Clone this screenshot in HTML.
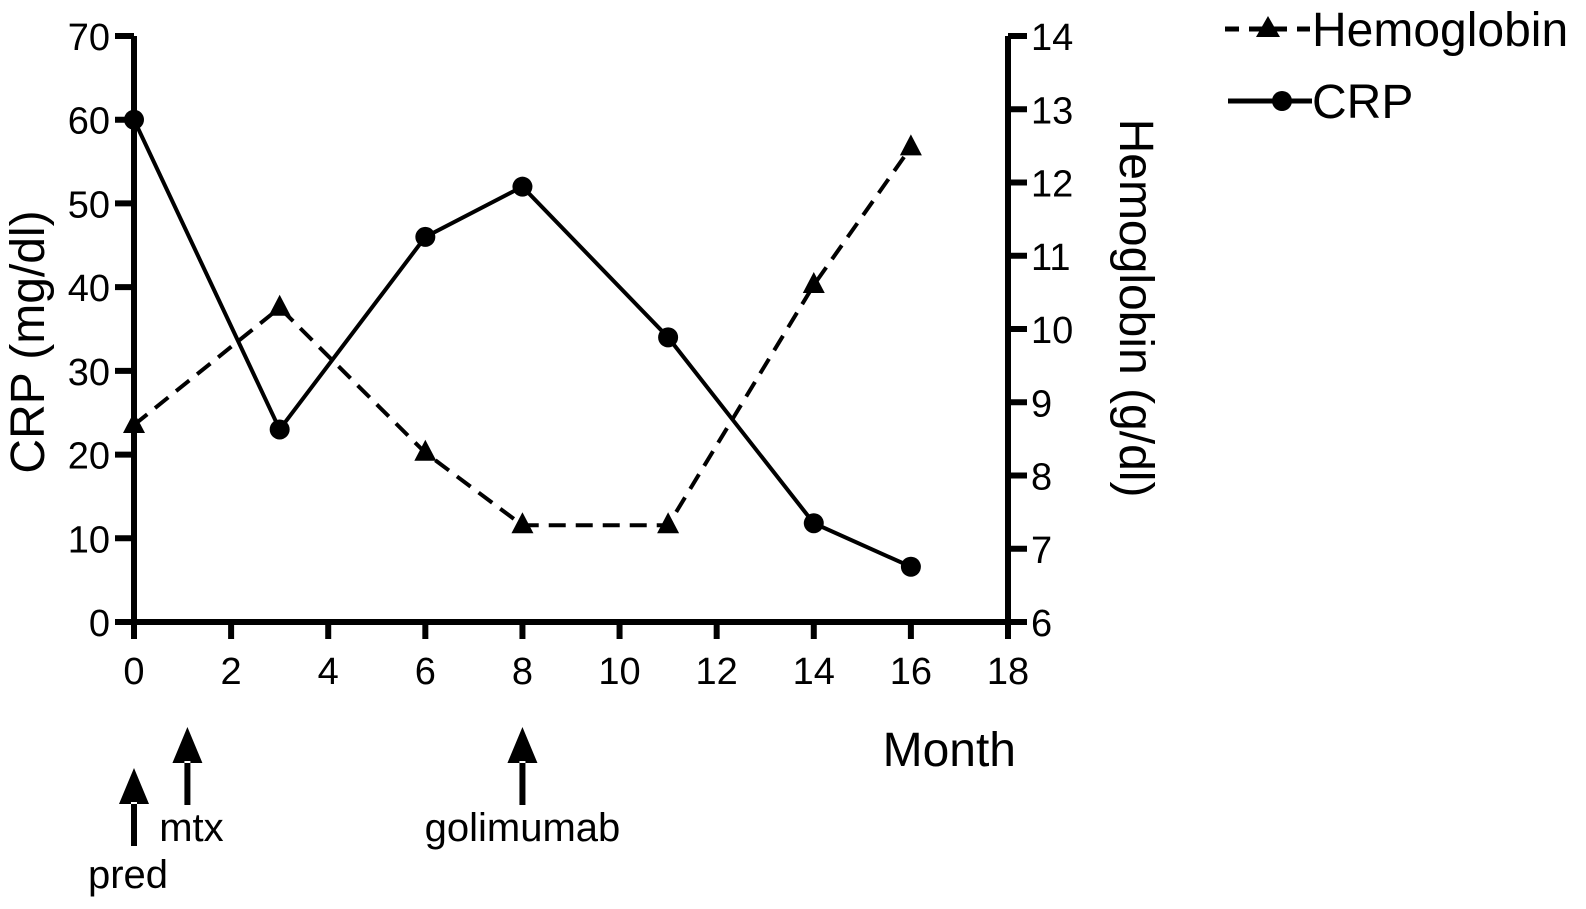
<!DOCTYPE html>
<html><head><meta charset="utf-8"><style>
html,body{margin:0;padding:0;background:#fff;}
svg{display:block;font-family:"Liberation Sans",Arial,sans-serif;}
</style></head><body>
<svg id="chart" width="1586" height="909" viewBox="0 0 1586 909" xmlns="http://www.w3.org/2000/svg"></svg>
<script>
const months=[0,3,6,8,11,14,16];
const crpValues=[60,23,46,52,34,11.8,6.6];
const hbValues=[8.69,10.29,8.31,7.32,7.32,10.6,12.48];
const xTicks=[0,2,4,6,8,10,12,14,16,18];
const crpTicks=[0,10,20,30,40,50,60,70];
const hbTicks=[6,7,8,9,10,11,12,13,14];
const events=[{m:0,label:"pred"},{m:1.1,label:"mtx"},{m:8,label:"golimumab"}];

const X=m=>134+m*(1008-134)/18;
const YL=v=>622-v*(622-36)/70;
const YR=v=>622-(v-6)*(622-36)/8;
const svg=document.getElementById('chart');
const NS='http://www.w3.org/2000/svg';
function mk(t,a,p){const e=document.createElementNS(NS,t);for(const k in a)e.setAttribute(k,a[k]);(p||svg).appendChild(e);return e;}

let e;
e=mk('path',{d:`M134 ${YL(70)} V622 H1008 V36`,fill:'none',stroke:'#000','stroke-width':6});


xTicks.forEach(t=>{
 e=mk('line',{x1:X(t),x2:X(t),y1:622,y2:639,stroke:'#000','stroke-width':6});
 
 
 e=mk('text',{x:X(t),y:684,'font-size':38,'text-anchor':'middle'});e.textContent=t;
 
 
});
crpTicks.forEach(t=>{
 e=mk('line',{x1:115,x2:134,y1:YL(t),y2:YL(t),stroke:'#000','stroke-width':6});
 
 
 e=mk('text',{x:110,y:YL(t)+14,'font-size':38,'text-anchor':'end'});e.textContent=t;
 
 
});
hbTicks.forEach(t=>{
 e=mk('line',{x1:1008,x2:1027,y1:YR(t),y2:YR(t),stroke:'#000','stroke-width':6});
 
 
 e=mk('text',{x:1031,y:YR(t)+14,'font-size':38,'text-anchor':'start'});e.textContent=t;
 
 
});
e=mk('text',{x:0,y:0,'font-size':48,'text-anchor':'middle',transform:'translate(44,342) rotate(-90)'});e.textContent='CRP (mg/dl)';


e=mk('text',{x:0,y:0,'font-size':48,'text-anchor':'middle',transform:'translate(1120,308) rotate(90)'});e.textContent='Hemoglobin (g/dl)';


e=mk('text',{x:1016,y:766,'font-size':48,'text-anchor':'end'});e.textContent='Month';



e=mk('polyline',{points:months.map((m,i)=>X(m)+','+YR(hbValues[i])).join(' '),fill:'none',stroke:'#000','stroke-width':4,'stroke-dasharray':'17 10'});


e=mk('polyline',{points:months.map((m,i)=>X(m)+','+YL(crpValues[i])).join(' '),fill:'none',stroke:'#000','stroke-width':4});


months.forEach((m,i)=>{
 const x=X(m),y=YR(hbValues[i]);
 e=mk('polygon',{points:`${x},${y-13} ${x-11},${y+8} ${x+11},${y+8}`,fill:'#000'});
 
 
 e=mk('circle',{cx:x,cy:YL(crpValues[i]),r:10,fill:'#000'});
 
 
});

events.forEach((ev,i)=>{
 const x=X(ev.m);const top=i==0?768:727;
 e=mk('path',{d:`M${x} ${top} L${x-15} ${top+36} L${x+15} ${top+36} Z M${x-3} ${top+34} h6 v44 h-6 Z`,fill:'#000'});
 
 
 const ly=i==0?888:841;
 const lx=i==0?x-6:(i==1?x+4:x);
 e=mk('text',{x:lx,y:ly,'font-size':40,'text-anchor':'middle'});e.textContent=ev.label;
 
 
});

e=mk('line',{x1:1225,x2:1310,y1:29,y2:29,stroke:'#000','stroke-width':5,'stroke-dasharray':'14 10'});


e=mk('polygon',{points:'1268,16 1256,37 1280,37',fill:'#000'});


e=mk('text',{x:1312,y:46,'font-size':48});e.textContent='Hemoglobin';


e=mk('line',{x1:1228,x2:1312,y1:101,y2:101,stroke:'#000','stroke-width':5});


e=mk('circle',{cx:1282,cy:101,r:10,fill:'#000'});


e=mk('text',{x:1312,y:118,'font-size':48});e.textContent='CRP';


</script>
</body></html>
